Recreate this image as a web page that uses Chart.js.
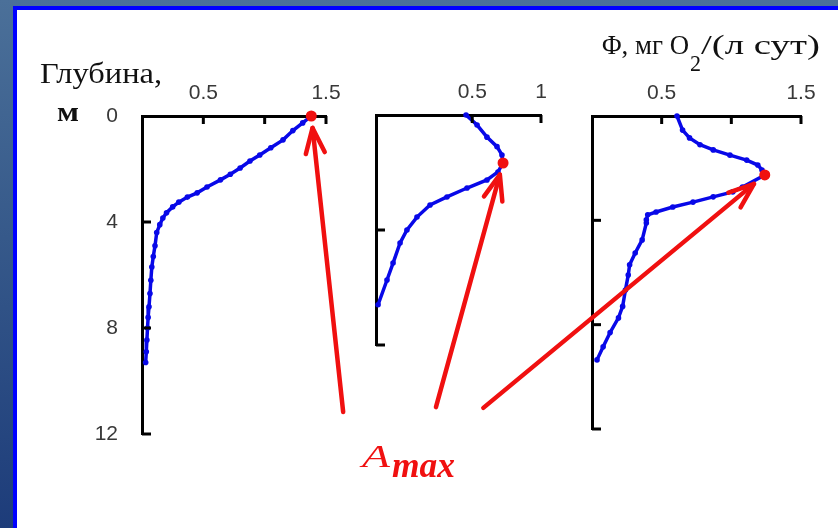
<!DOCTYPE html>
<html>
<head>
<meta charset="utf-8">
<script src="https://cdn.jsdelivr.net/npm/chart.js@4"></script>
<style>
  html, body { margin: 0; padding: 0; }
  body {
    width: 838px; height: 528px; overflow: hidden; position: relative;
    background: linear-gradient(180deg, #4b7099 0%, #36598a 45%, #1d3c7a 100%);
  }
  .sheet {
    position: absolute; left: 13px; top: 6px; width: 840px; height: 530px;
    background: #fff; border-left: 4px solid #0000ff; border-top: 4px solid #0000ff;
  }
  canvas { position: absolute; left: 0; top: 0; }
</style>
</head>
<body>
<div class="sheet"></div>
<canvas id="panel1" width="838" height="528"></canvas>
<canvas id="panel2" width="838" height="528"></canvas>
<canvas id="panel3" width="838" height="528"></canvas>
<script>
// depth, m  /  flux, mg O2/(l day)
const p1Depth = [0, 0.26, 0.55, 0.9, 1.2, 1.47, 1.7, 1.96, 2.2, 2.41, 2.68, 2.9, 3.06, 3.25, 3.43, 3.65, 3.85, 4.1, 4.4, 4.9, 5.3, 5.7, 6.2, 6.7, 7.2, 7.6, 8.0, 8.45, 8.9, 9.3];
const p1Flux = [1.38, 1.31, 1.23, 1.15, 1.05, 0.96, 0.88, 0.8, 0.72, 0.64, 0.53, 0.45, 0.37, 0.3, 0.25, 0.2, 0.17, 0.145, 0.12, 0.106, 0.092, 0.08, 0.072, 0.065, 0.057, 0.05, 0.045, 0.04, 0.035, 0.03];
const p1Max = [1.38, 0];

const p2Depth = [0, 0.35, 0.77, 1.1, 1.39, 1.67, 1.98, 2.26, 2.54, 2.85, 3.13, 3.55, 4.0, 4.45, 5.15, 5.74, 6.6];
const p2Flux = [0.455, 0.535, 0.607, 0.68, 0.716, 0.724, 0.687, 0.607, 0.462, 0.316, 0.193, 0.098, 0.025, -0.025, -0.076, -0.12, -0.185];
const p2Max = [0.724, 1.67];

const p3Depth = [0, 0.54, 0.84, 1.1, 1.3, 1.5, 1.69, 1.88, 2.07, 2.26, 2.72, 2.91, 3.1, 3.3, 3.49, 3.68, 3.79, 3.98, 4.1, 4.75, 5.25, 5.7, 6.1, 6.67, 7.3, 7.74, 8.3, 8.85, 9.35];
const p3Flux = [0.61, 0.65, 0.7, 0.775, 0.87, 0.99, 1.11, 1.19, 1.22, 1.24, 1.08, 1.01, 0.87, 0.725, 0.58, 0.46, 0.4, 0.39, 0.39, 0.36, 0.31, 0.27, 0.26, 0.24, 0.22, 0.19, 0.13, 0.08, 0.036];
const p3Max = [1.24, 2.26];

const p1XTicks = [0.5, 1, 1.5];
const p1XLabels = ["0.5", "", "1.5"];
const p1YTicks = [0, 4, 8, 12];
const p1YLabels = ["0", "4", "8", "12"];
const p2XTicks = [0.5, 1];
const p2XLabels = ["0.5", "1"];
const p2YTicks = [4, 8];
const p3XTicks = [0.5, 1, 1.5];
const p3XLabels = ["0.5", "", "1.5"];
const p3YTicks = [4, 8, 12];

const BLUE = "#0808e8";
const RED = "#f01010";

function fitText(ctx, t) {
  ctx.save();
  ctx.font = t.font;
  ctx.fillStyle = t.color || "#111";
  ctx.textBaseline = "alphabetic";
  let w = ctx.measureText(t.text).width;
  ctx.translate(t.x, t.y);
  ctx.scale(t.w / w, 1);
  ctx.fillText(t.text, 0, 0);
  ctx.restore();
}

const panelDecor = {
  id: "panelDecor",
  afterDraw(chart, args, opts) {
    let ctx = chart.ctx;
    let { x, y } = chart.scales;
    let area = chart.chartArea;
    ctx.save();
    // tick marks pointing into the plot
    ctx.strokeStyle = "#000";
    ctx.lineWidth = 3;
    x.ticks.forEach((t) => {
      if (t.value === x.min) return;
      let px = x.getPixelForValue(t.value);
      ctx.beginPath();
      ctx.moveTo(px, area.top);
      ctx.lineTo(px, area.top + 8);
      ctx.stroke();
    });
    y.ticks.forEach((t) => {
      if (t.value === y.min) return;
      let py = y.getPixelForValue(t.value);
      ctx.beginPath();
      ctx.moveTo(area.left, py);
      ctx.lineTo(area.left + 9, py);
      ctx.stroke();
    });
    // arrow from the tail towards the maximum point
    if (opts.arrow) {
      let x0 = x.getPixelForValue(opts.arrow.tail[0]);
      let y0 = y.getPixelForValue(opts.arrow.tail[1]);
      let x1 = x.getPixelForValue(opts.arrow.to[0]);
      let y1 = y.getPixelForValue(opts.arrow.to[1]);
      let ang = Math.atan2(y1 - y0, x1 - x0);
      let tx = x1 - Math.cos(ang) * opts.arrow.gap;
      let ty = y1 - Math.sin(ang) * opts.arrow.gap;
      ctx.strokeStyle = RED;
      ctx.lineWidth = 4.5;
      ctx.lineCap = "round";
      ctx.lineJoin = "round";
      ctx.beginPath();
      ctx.moveTo(x0, y0);
      ctx.lineTo(tx, ty);
      ctx.stroke();
      ctx.beginPath();
      ctx.moveTo(tx - Math.cos(ang - 0.36) * 27, ty - Math.sin(ang - 0.36) * 27);
      ctx.lineTo(tx, ty);
      ctx.lineTo(tx - Math.cos(ang + 0.36) * 27, ty - Math.sin(ang + 0.36) * 27);
      ctx.stroke();
    }
    (opts.texts || []).forEach((t) => fitText(ctx, t));
    ctx.restore();
  },
};

function makePanel(id, cfg) {
  return new Chart(document.getElementById(id), {
    type: "scatter",
    data: {
      datasets: [
        {
          data: [{ x: cfg.max[0], y: cfg.max[1] }],
          pointRadius: 5.5,
          pointBorderWidth: 0,
          backgroundColor: RED,
          clip: false,
          order: 0,
        },
        {
          data: cfg.flux.map((v, i) => ({ x: v, y: cfg.depth[i] })),
          showLine: true,
          borderColor: BLUE,
          backgroundColor: BLUE,
          borderWidth: 3.5,
          pointRadius: 2.8,
          pointBorderWidth: 0,
          tension: 0,
          clip: false,
          order: 1,
        },
      ],
    },
    options: {
      responsive: false,
      animation: false,
      events: [],
      layout: { padding: cfg.pad },
      plugins: {
        legend: { display: false },
        tooltip: { enabled: false },
        panelDecor: { arrow: cfg.arrow, texts: cfg.texts },
      },
      scales: {
        x: {
          type: "linear",
          position: "top",
          min: cfg.xMin,
          max: cfg.xMax,
          afterBuildTicks: (s) => { s.ticks = cfg.xTicks.map((v) => ({ value: v })); },
          afterFit: (s) => { s.height = 50; },
          grid: { display: false, drawTicks: false },
          border: { display: true, color: "#000", width: 3 },
          ticks: {
            autoSkip: false,
            maxRotation: 0,
            padding: 10,
            color: "#383838",
            font: { family: "Liberation Sans", size: 21 },
            callback: (v, i) => cfg.xLabels[i],
          },
        },
        y: {
          type: "linear",
          reverse: true,
          min: 0,
          max: cfg.yMax,
          afterBuildTicks: (s) => { s.ticks = cfg.yTicks.map((v) => ({ value: v })); },
          afterFit: (s) => { s.width = cfg.yWidth; },
          grid: { display: false, drawTicks: false },
          border: { display: true, color: "#000", width: 3 },
          ticks: {
            autoSkip: false,
            padding: 24,
            color: "#383838",
            font: { family: "Liberation Sans", size: 21 },
            callback: (v, i) => (cfg.yLabels ? cfg.yLabels[i] : ""),
          },
        },
      },
    },
    plugins: [panelDecor],
  });
}

makePanel("panel1", {
  depth: p1Depth, flux: p1Flux, max: p1Max,
  xMin: 0, xMax: 1.5, yMax: 12,
  xTicks: p1XTicks, xLabels: p1XLabels, yTicks: p1YTicks, yLabels: p1YLabels,
  yWidth: 60,
  pad: { left: 82, top: 66, right: 512, bottom: 94 },
  arrow: { tail: [1.64, 11.17], to: p1Max, gap: 12 },
  texts: [
    { text: "Глубина,", font: "30px 'Liberation Serif'", x: 40, y: 83, w: 122 },
    { text: "м", font: "bold 28px 'Liberation Serif'", x: 57, y: 121, w: 22 },
    { text: "A", font: "italic 32px 'Liberation Serif'", x: 362, y: 467, w: 28, color: RED },
    { text: "max", font: "italic bold 36px 'Liberation Serif'", x: 392, y: 477, w: 63, color: RED },
  ],
});

makePanel("panel2", {
  depth: p2Depth, flux: p2Flux, max: p2Max,
  xMin: -0.2, xMax: 1, yMax: 8,
  xTicks: p2XTicks, xLabels: p2XLabels, yTicks: p2YTicks,
  yWidth: 10,
  pad: { left: 366, top: 65, right: 297, bottom: 183 },
  arrow: { tail: [0.236, 10.16], to: p2Max, gap: 12 },
});

makePanel("panel3", {
  depth: p3Depth, flux: p3Flux, max: p3Max,
  xMin: 0, xMax: 1.5, yMax: 12,
  xTicks: p3XTicks, xLabels: p3XLabels, yTicks: p3YTicks,
  yWidth: 10,
  pad: { left: 582, top: 66, right: 37, bottom: 99 },
  arrow: { tail: [-0.78, 11.19], to: p3Max, gap: 14 },
  texts: [
    { text: "Φ, мг O", font: "28px 'Liberation Serif'", x: 602, y: 54, w: 87 },
    { text: "2", font: "23px 'Liberation Serif'", x: 690, y: 71, w: 11 },
    { text: "/(л сут)", font: "28px 'Liberation Serif'", x: 701, y: 54, w: 119 },
  ],
});
</script>
</body>
</html>
